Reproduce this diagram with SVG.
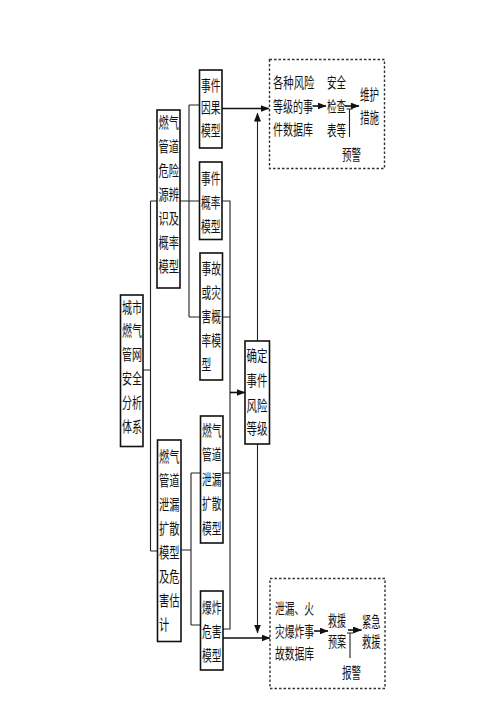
<svg xmlns="http://www.w3.org/2000/svg" width="500" height="707" viewBox="0 0 500 707">
<style>
.bg{fill:#ffffff}
.box{fill:#ffffff;stroke:#111111;stroke-width:1.6}
.dash{fill:none;stroke:#333333;stroke-width:1.4;stroke-dasharray:2.5,2}
.ln{fill:none;stroke:#222222;stroke-width:1.1}
.ar{fill:none;stroke:#111111;stroke-width:1.6}
.t{font-family:"Liberation Serif","Noto Sans CJK SC",serif;font-size:15px;fill:#111111}
</style>
<defs>
<marker id="ah" markerUnits="userSpaceOnUse" markerWidth="9" markerHeight="7" refX="8.5" refY="3.5" orient="auto">
<path d="M0,0 L9,3.5 L0,7 z" fill="#111111"/>
</marker>
</defs>
<rect class="bg" x="0" y="0" width="500" height="707"/>

<g id="connectors">
<path class="ln" d="M143,370 H150.5 M150.5,201 V551 M150.5,201 H157 M150.5,551 H157.5"/>
<path class="ln" d="M180,201 H199.5 M189,105 V317 M189,105 H199.5 M189,317 H200"/>
<path class="ln" d="M181,550 H191 M191,473 V625 M191,473 H200.5 M191,625 H200.5"/>
<path class="ln" d="M222,201 H230 V629 H223 M222.5,317 H230 M223,473 H230"/>
<path class="ar" d="M230,392.5 H245" marker-end="url(#ah)"/>
<path class="ar" d="M222,108.5 H269" marker-end="url(#ah)"/>
<path class="ar" d="M223,638 H270" marker-end="url(#ah)"/>
<path class="ln" d="M257.5,341 V113" marker-end="url(#ah)"/>
<path class="ln" d="M257.5,444 V633" marker-end="url(#ah)"/>
<path class="ar" d="M312.5,106 H326" marker-end="url(#ah)"/>
<path class="ar" d="M345,106 H359" marker-end="url(#ah)"/>
<path class="ln" d="M349.5,109 V137 M346.5,109 H352.5"/>
<path class="ar" d="M314,631 H328" marker-end="url(#ah)"/>
<path class="ar" d="M348,630 H361.5" marker-end="url(#ah)"/>
<path class="ln" d="M350,633 V658 M347,633 H353"/>
</g>

<g id="main">
<rect class="box" x="120.5" y="295" width="22.5" height="151.5"/>
<text class="t" transform="translate(122,312.5) scale(0.667,1)">城市</text>
<text class="t" transform="translate(122,336) scale(0.667,1)">燃气</text>
<text class="t" transform="translate(122,360) scale(0.667,1)">管网</text>
<text class="t" transform="translate(122,384) scale(0.667,1)">安全</text>
<text class="t" transform="translate(122,408) scale(0.667,1)">分析</text>
<text class="t" transform="translate(122,431.5) scale(0.667,1)">体系</text>
</g>

<g id="cat1">
<rect class="box" x="157" y="110" width="23" height="178"/>
<text class="t" transform="translate(158.5,127.5) scale(0.683,1)">燃气</text>
<text class="t" transform="translate(158.5,151.5) scale(0.683,1)">管道</text>
<text class="t" transform="translate(158.5,175.5) scale(0.683,1)">危险</text>
<text class="t" transform="translate(158.5,199.5) scale(0.683,1)">源辨</text>
<text class="t" transform="translate(158.5,223.5) scale(0.683,1)">识及</text>
<text class="t" transform="translate(158.5,247.5) scale(0.683,1)">概率</text>
<text class="t" transform="translate(158.5,271.5) scale(0.683,1)">模型</text>
</g>

<g id="cat2">
<rect class="box" x="157.5" y="440" width="23.5" height="201.5"/>
<text class="t" transform="translate(159,462) scale(0.683,1)">燃气</text>
<text class="t" transform="translate(159,486) scale(0.683,1)">管道</text>
<text class="t" transform="translate(159,510) scale(0.683,1)">泄漏</text>
<text class="t" transform="translate(159,534) scale(0.683,1)">扩散</text>
<text class="t" transform="translate(159,558) scale(0.683,1)">模型</text>
<text class="t" transform="translate(159,582) scale(0.683,1)">及危</text>
<text class="t" transform="translate(159,606) scale(0.683,1)">害估</text>
<text class="t" transform="translate(159,630) scale(0.683,1)">计</text>
</g>

<g id="m1">
<rect class="box" x="199.5" y="70" width="22.5" height="78"/>
<text class="t" transform="translate(201,90.5) scale(0.65,1)">事件</text>
<text class="t" transform="translate(201,113) scale(0.65,1)">因果</text>
<text class="t" transform="translate(201,135.5) scale(0.65,1)">模型</text>
</g>

<g id="m2">
<rect class="box" x="199.5" y="162" width="22.5" height="77.5"/>
<text class="t" transform="translate(201,184) scale(0.65,1)">事件</text>
<text class="t" transform="translate(201,208) scale(0.65,1)">概率</text>
<text class="t" transform="translate(201,232) scale(0.65,1)">模型</text>
</g>

<g id="m3">
<rect class="box" x="200" y="253" width="22.5" height="127"/>
<text class="t" transform="translate(201.5,273.5) scale(0.65,1)">事故</text>
<text class="t" transform="translate(201.5,297.5) scale(0.65,1)">或灾</text>
<text class="t" transform="translate(201.5,322) scale(0.65,1)">害概</text>
<text class="t" transform="translate(201.5,346) scale(0.65,1)">率模</text>
<text class="t" transform="translate(201.5,370) scale(0.65,1)">型</text>
</g>

<g id="m4">
<rect class="box" x="200.5" y="416" width="22.5" height="127"/>
<text class="t" transform="translate(202,436) scale(0.65,1)">燃气</text>
<text class="t" transform="translate(202,460) scale(0.65,1)">管道</text>
<text class="t" transform="translate(202,484.5) scale(0.65,1)">泄漏</text>
<text class="t" transform="translate(202,509) scale(0.65,1)">扩散</text>
<text class="t" transform="translate(202,533.5) scale(0.65,1)">模型</text>
</g>

<g id="m5">
<rect class="box" x="200.5" y="591" width="22.5" height="79"/>
<text class="t" transform="translate(202,612.5) scale(0.65,1)">爆炸</text>
<text class="t" transform="translate(202,636.5) scale(0.65,1)">危害</text>
<text class="t" transform="translate(202,660.5) scale(0.65,1)">模型</text>
</g>

<g id="risk">
<rect class="box" x="245" y="341" width="24.5" height="103"/>
<text class="t" transform="translate(246.5,360.5) scale(0.7,1)">确定</text>
<text class="t" transform="translate(246.5,386) scale(0.7,1)">事件</text>
<text class="t" transform="translate(246.5,410.5) scale(0.7,1)">风险</text>
<text class="t" transform="translate(246.5,434) scale(0.7,1)">等级</text>
</g>

<g id="maintenance">
<rect class="dash" x="269.5" y="59.5" width="115" height="109"/>
<text class="t" transform="translate(273,87.5) scale(0.69,1)">各种风险</text>
<text class="t" transform="translate(273,111.5) scale(0.667,1)">等级的事</text>
<text class="t" transform="translate(273,134.5) scale(0.667,1)">件数据库</text>
<text class="t" transform="translate(327,87.5) scale(0.633,1)">安全</text>
<text class="t" transform="translate(327,112) scale(0.633,1)">检查</text>
<text class="t" transform="translate(327,135.5) scale(0.633,1)">表等</text>
<text class="t" transform="translate(360,100) scale(0.633,1)">维护</text>
<text class="t" transform="translate(360,123) scale(0.633,1)">措施</text>
<text class="t" transform="translate(342,159.5) scale(0.633,1)">预警</text>
</g>

<g id="emergency">
<rect class="dash" x="270" y="578.5" width="115" height="110"/>
<text class="t" transform="translate(275,613.5) scale(0.65,1)">泄漏、火</text>
<text class="t" transform="translate(275,636.5) scale(0.65,1)">灾爆炸事</text>
<text class="t" transform="translate(275,659) scale(0.65,1)">故数据库</text>
<text class="t" transform="translate(328,625.5) scale(0.6,1)">救援</text>
<text class="t" transform="translate(328,646.5) scale(0.6,1)">预案</text>
<text class="t" transform="translate(362,626.5) scale(0.617,1)">紧急</text>
<text class="t" transform="translate(362,647) scale(0.617,1)">救援</text>
<text class="t" transform="translate(342,677.5) scale(0.633,1)">报警</text>
</g>
</svg>
